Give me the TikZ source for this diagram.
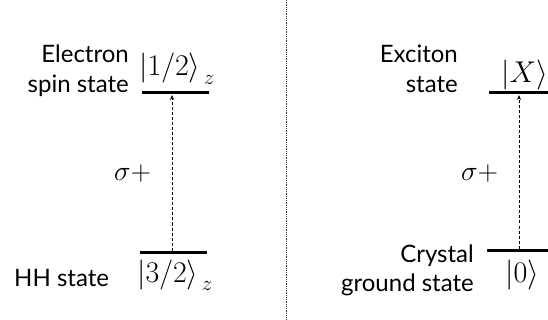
\RequirePackage{fix-cm}
\documentclass[tikz,border=0pt]{standalone}
\usepackage{fontspec}
\setmainfont{Lato}
\usetikzlibrary{arrows.meta}
\tikzset{
  levelline/.style={line width=3pt},
  trans/.style={dash pattern=on 3pt off 2pt, line width=0.8pt, -{Stealth[length=5pt,width=4pt]}},
  lbl/.style={font=\fontsize{24}{29}\selectfont, inner sep=0pt},
  ket/.style={font=\fontsize{30}{36}\selectfont, inner sep=0pt},
  sig/.style={font=\fontsize{28}{34}\selectfont, inner sep=0pt},
  divider/.style={densely dotted, line width=0.8pt, black!80},
}
\begin{document}
\begin{tikzpicture}[x=1pt,y=-1pt]
\useasboundingbox (0,0) rectangle (548,320);
% divider
\coordinate (dtop) at (286.5,0);
\coordinate (dbot) at (286.5,320);
\draw[divider] (dtop) -- (dbot);
% left levels
\coordinate (e1a) at (142,93); \coordinate (e1b) at (209,93);
\coordinate (g1a) at (140,252); \coordinate (g1b) at (207,252);
\draw[levelline] (e1a) -- (e1b);
\draw[levelline] (g1a) -- (g1b);
\coordinate (a1s) at (172,250.5); \coordinate (a1e) at (172,95);
\draw[trans] (a1s) -- (a1e);
\node[lbl, anchor=base east] (t1a) at (129,63) {Electron};
\node[lbl, anchor=base east] (t1b) at (129,93) {spin state};
\node[lbl, anchor=base west] (t2) at (14,286) {HH state};
\node[ket, anchor=base west] (k1) at (139,75.5) {${|1/2\rangle}_{\,z}$};
\node[ket, anchor=base west] (k2) at (137,282) {${|3/2\rangle}_{\,z}$};
\node[sig, anchor=base west] (s1) at (114,181) {$\sigma+$};
% right levels
\coordinate (e2a) at (489,93); \coordinate (e2b) at (548,93);
\coordinate (g2a) at (487,250); \coordinate (g2b) at (548,250);
\draw[levelline] (e2a) -- (e2b);
\draw[levelline] (g2a) -- (g2b);
\coordinate (a2s) at (519,248.5); \coordinate (a2e) at (519,95);
\draw[trans] (a2s) -- (a2e);
\node[lbl, anchor=base east] (t3a) at (458,63) {Exciton};
\node[lbl, anchor=base east] (t3b) at (458,93) {state};
\node[lbl, anchor=base east] (t4a) at (474,262) {Crystal};
\node[lbl, anchor=base east] (t4b) at (474,291) {ground state};
\node[ket, anchor=base west] (k3) at (501,82.5) {$|X\rangle$};
\node[ket, anchor=base west] (k4) at (505,282.5) {$|0\rangle$};
\node[sig, anchor=base west] (s2) at (461,181) {$\sigma+$};
\end{tikzpicture}
\end{document}
